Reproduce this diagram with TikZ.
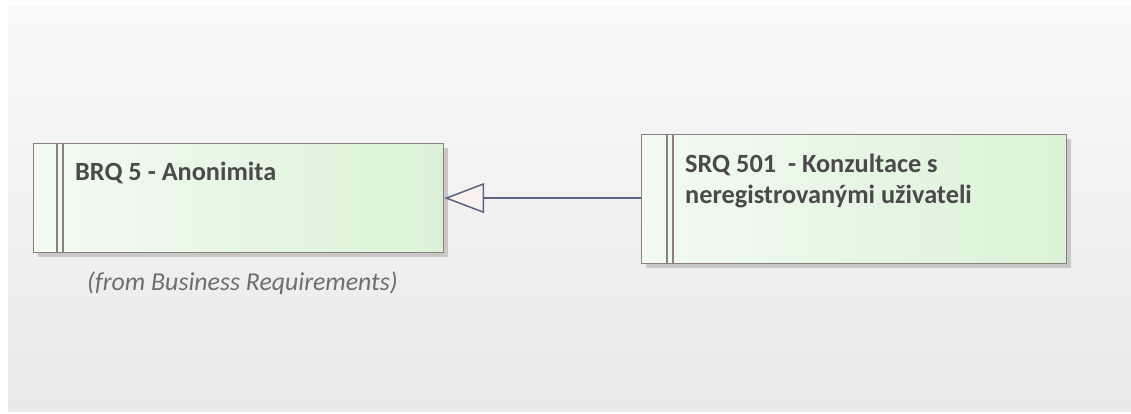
\documentclass[tikz,border=0pt]{standalone}
\usepackage{fontspec}
\setmainfont{Carlito}
\usetikzlibrary{arrows.meta,shadows}
\definecolor{bgtop}{HTML}{F9F9F9}
\definecolor{bgbot}{HTML}{EAE9E9}
\definecolor{boxl}{HTML}{F2FBF1}
\definecolor{boxr}{HTML}{DCF2D8}
\definecolor{boxborder}{HTML}{8E7F7F}
\definecolor{shadowc}{HTML}{C9C7C7}
\definecolor{txt}{HTML}{4A4A4A}
\definecolor{note}{HTML}{6E6E6E}
\definecolor{conncol}{HTML}{5E6283}
\definecolor{tipfill}{HTML}{F8F1EF}
\tikzset{
  reqbox/.style={draw=boxborder, line width=1.2pt, left color=boxl, right color=boxr,
    anchor=north west, inner sep=0pt,
    drop shadow={shadow xshift=4pt, shadow yshift=-4pt, fill=shadowc, opacity=1}},
  stripe/.style={draw=boxborder, line width=1.2pt},
  reqtext/.style={font=\bfseries\fontsize{26.3}{32}\selectfont, text=txt, anchor=base west, inner sep=0pt},
  notetext/.style={font=\itshape\fontsize{25.8}{30}\selectfont, text=note, anchor=base west, inner sep=0pt},
  conn/.style={draw=conncol, line width=1.5pt, -{Triangle[length=40pt,width=30pt,fill=tipfill,line width=1.5pt]}}
}
\begin{document}
\begin{tikzpicture}[x=1pt,y=1pt]
\useasboundingbox (0,0) rectangle (1131,-414);
\fill[white] (0,0) rectangle (1131,-414);
\fill[top color=bgtop, bottom color=bgbot] (8,-7) rectangle (1131,-411);
% left requirement
\node[reqbox, minimum width=410pt, minimum height=109pt] (brq) at (33,-143) {};
\draw[stripe] ([xshift=24pt]brq.north west) -- ([xshift=24pt]brq.south west);
\draw[stripe] ([xshift=30pt]brq.north west) -- ([xshift=30pt]brq.south west);
\node[reqtext] (brqt) at (75,-181) {BRQ 5 - Anonimita};
\node[notetext] (brqn) at (87,-290) {(from Business Requirements)};
% right requirement
\node[reqbox, minimum width=425pt, minimum height=129pt] (srq) at (641,-134) {};
\draw[stripe] ([xshift=26pt]srq.north west) -- ([xshift=26pt]srq.south west);
\draw[stripe] ([xshift=32pt]srq.north west) -- ([xshift=32pt]srq.south west);
\node[reqtext] (srqt1) at (685,-172) {SRQ 501\ \ - Konzultace s};
\node[reqtext] (srqt2) at (685,-204) {neregistrovanými uživateli};
% connector
\draw[conn] ([yshift=1pt]srq.west) -- ([yshift=1pt]srq.west -| brq.east);
\end{tikzpicture}
\end{document}
